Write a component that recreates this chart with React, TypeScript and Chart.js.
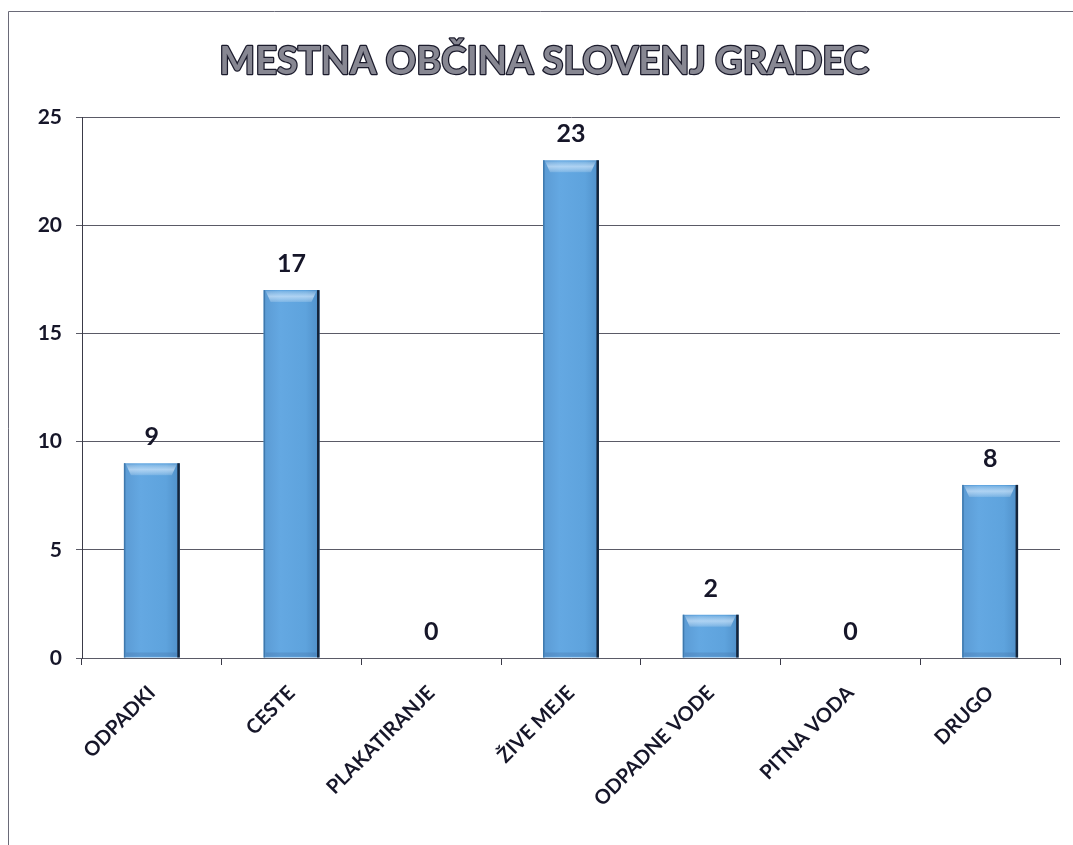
import React, { useEffect, useRef } from 'react';
import { Chart, registerables } from 'chart.js';

Chart.register(...registerables);

const chartTitle = 'MESTNA OBČINA SLOVENJ GRADEC';
const categories = ['ODPADKI', 'CESTE', 'PLAKATIRANJE', 'ŽIVE MEJE', 'ODPADNE VODE', 'PITNA VODA', 'DRUGO'];
const counts = [9, 17, 0, 23, 2, 0, 8];
const yMin = 0;
const yMax = 25;
const yStep = 5;

const FONT = 'Lato, "Open Sans", "DejaVu Sans", sans-serif';
const TEXT = '#161629';

const framePlugin = {
  id: 'frame',
  beforeDraw(chart: any) {
    const { ctx } = chart;
    ctx.save();
    ctx.fillStyle = '#ffffff';
    ctx.fillRect(0, 0, chart.width, chart.height);
    ctx.strokeStyle = '#6a6a78';
    ctx.lineWidth = 1;
    ctx.beginPath();
    ctx.moveTo(8.5, chart.height);
    ctx.lineTo(8.5, 11.5);
    ctx.lineTo(chart.width, 11.5);
    ctx.stroke();
    ctx.restore();
  },
};

const titlePlugin = {
  id: 'outlinedTitle',
  afterDraw(chart: any) {
    const { ctx } = chart;
    ctx.save();
    ctx.font = `bold 38px ${FONT}`;
    ctx.textAlign = 'center';
    ctx.textBaseline = 'middle';
    ctx.lineJoin = 'round';
    ctx.lineWidth = 2.5;
    ctx.strokeStyle = '#1b1b2c';
    ctx.strokeText(chartTitle, 544, 62);
    ctx.fillStyle = '#878792';
    ctx.fillText(chartTitle, 544, 62);
    ctx.restore();
  },
};

const barDecorPlugin = {
  id: 'barDecor',
  afterDatasetsDraw(chart: any) {
    const { ctx } = chart;
    const meta = chart.getDatasetMeta(0);
    ctx.save();
    meta.data.forEach((el: any, i: number) => {
      const v = counts[i];
      const half = el.width / 2;
      const left = el.x - half;
      const right = el.x + half;
      const top = el.y;
      const bottom = el.base;
      if (!isFinite(left) || !isFinite(top) || !isFinite(bottom)) return;
      if (v > 0) {
        const g = ctx.createLinearGradient(0, top, 0, top + 14);
        g.addColorStop(0, 'rgba(255,255,255,0.05)');
        g.addColorStop(0.45, 'rgba(225,240,255,0.6)');
        g.addColorStop(1, 'rgba(255,255,255,0)');
        ctx.fillStyle = g;
        ctx.beginPath();
        ctx.moveTo(left + 2, top + 1);
        ctx.lineTo(right - 3, top + 1);
        ctx.lineTo(right - 8, top + 12);
        ctx.lineTo(left + 7, top + 12);
        ctx.closePath();
        ctx.fill();
        ctx.fillStyle = 'rgba(60,100,150,0.25)';
        ctx.fillRect(left + 2, bottom - 5, el.width - 5, 4);
        ctx.fillStyle = '#3f79ad';
        ctx.fillRect(left, top, 1.5, bottom - top);
        ctx.fillStyle = '#14243a';
        ctx.fillRect(right - 2.5, top, 2.5, bottom - top);
      }
      ctx.font = `bold 25px ${FONT}`;
      ctx.fillStyle = TEXT;
      ctx.textAlign = 'center';
      ctx.textBaseline = 'alphabetic';
      ctx.fillText(String(v), el.x, top - 18);
    });
    ctx.restore();
  },
};

export default function App() {
  const canvasRef = useRef<HTMLCanvasElement | null>(null);

  useEffect(() => {
    const canvas = canvasRef.current;
    if (!canvas) return;
    const chart = new Chart(canvas, {
      type: 'bar',
      data: {
        labels: categories,
        datasets: [
          {
            data: counts,
            backgroundColor: (c: any) => {
              const ch = c.chart;
              const xs = ch.scales?.x;
              if (!xs || c.dataIndex === undefined) return '#5ea2dc';
              const cx = xs.getPixelForValue(c.dataIndex);
              if (!isFinite(cx)) return '#5ea2dc';
              const g = ch.ctx.createLinearGradient(cx - 28, 0, cx + 28, 0);
              g.addColorStop(0, '#5b9ad3');
              g.addColorStop(0.3, '#64a8e2');
              g.addColorStop(0.75, '#5ea3dd');
              g.addColorStop(1, '#4f8fc8');
              return g;
            },
            borderWidth: 0,
            barPercentage: 0.4,
            categoryPercentage: 1,
          },
        ],
      },
      options: {
        animation: false,
        responsive: false,
        maintainAspectRatio: false,
        layout: { padding: { left: 0, right: 13, top: 117, bottom: 0 } },
        plugins: {
          legend: { display: false },
          title: { display: false },
          tooltip: { enabled: false },
        },
        scales: {
          x: {
            type: 'category',
            offset: true,
            grid: {
              display: true,
              offset: true,
              drawOnChartArea: false,
              drawTicks: true,
              tickLength: 7,
              color: '#3a3a48',
            },
            border: { display: true, color: '#5a5a66', width: 1 },
            ticks: {
              minRotation: 45,
              maxRotation: 45,
              autoSkip: false,
              padding: 16,
              color: TEXT,
              font: { family: FONT, weight: 'bold', size: 20 },
            },
            afterFit: (s: any) => {
              s.height = 187;
            },
          },
          y: {
            min: yMin,
            max: yMax,
            ticks: {
              stepSize: yStep,
              padding: 14,
              color: TEXT,
              font: { family: FONT, weight: 'bold', size: 21 },
            },
            grid: {
              color: '#5a5a66',
              lineWidth: 1,
              tickLength: 6,
              drawTicks: true,
            },
            border: { display: true, color: '#3a3a48', width: 1 },
            afterFit: (s: any) => {
              s.width = 82;
            },
          },
        },
      },
      plugins: [framePlugin, barDecorPlugin, titlePlugin],
    });
    return () => chart.destroy();
  }, []);

  return (
    <div style={{ position: 'absolute', left: 0, top: 0, width: 1073, height: 845, background: '#fff' }}>
      <canvas ref={canvasRef} width={1073} height={845} style={{ display: 'block', width: 1073, height: 845 }} />
    </div>
  );
}
